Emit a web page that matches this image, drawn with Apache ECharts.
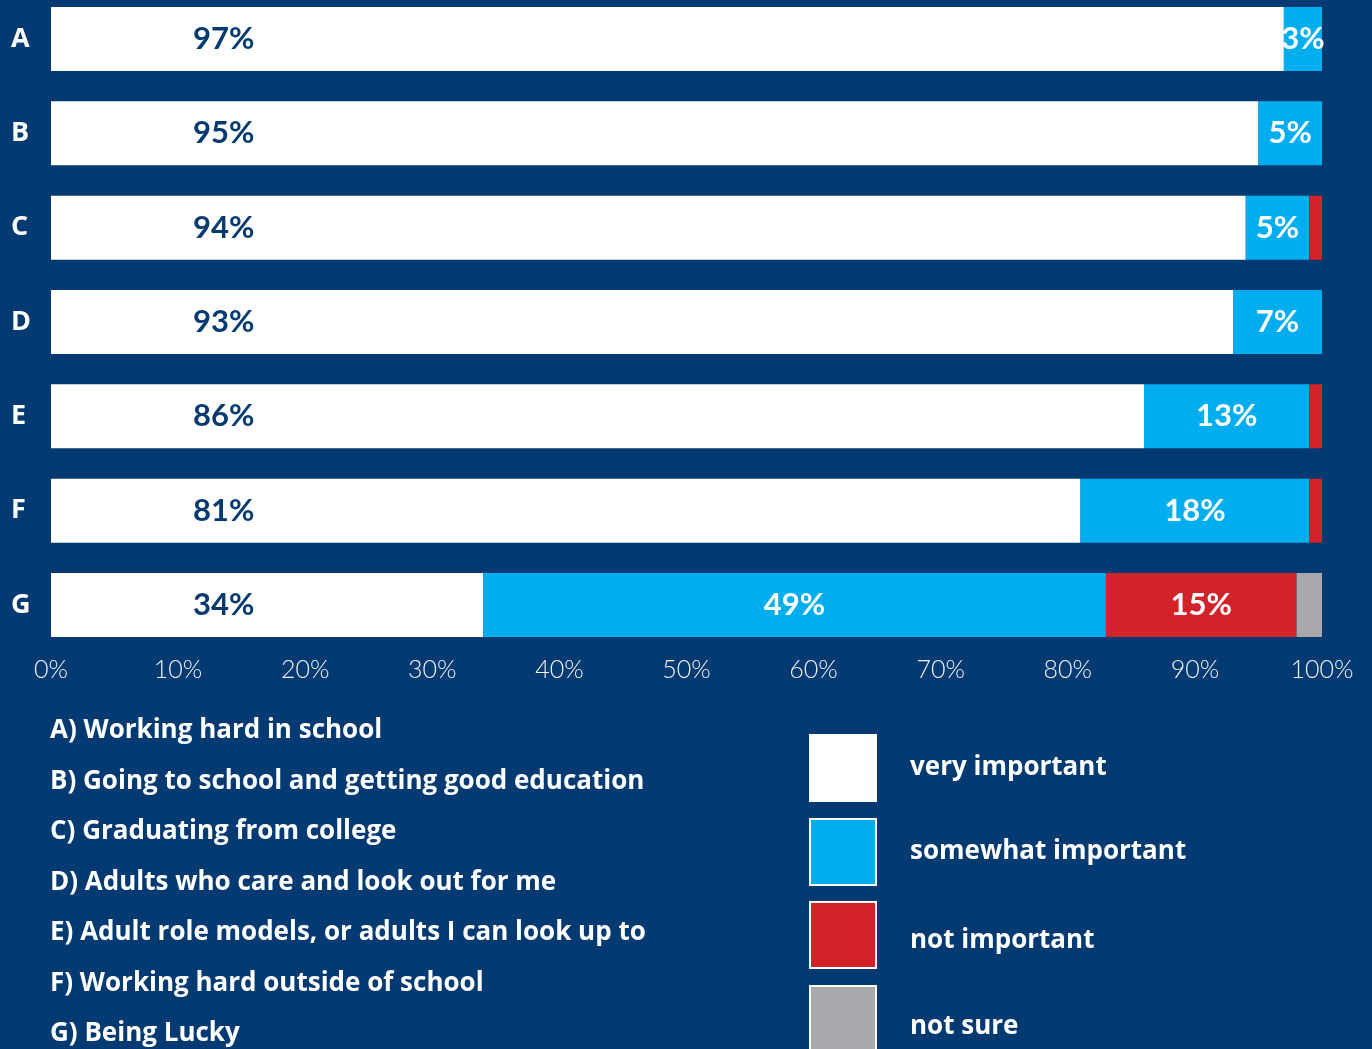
<!DOCTYPE html>
<html>
<head>
<meta charset="utf-8">
<script src="https://cdn.jsdelivr.net/npm/echarts@6/dist/echarts.min.js"></script>
<style>
  html, body { margin: 0; padding: 0; background: #033a71; }
  #chart { width: 1372px; height: 1049px; }
</style>
</head>
<body>
<div id="chart"></div>
<script>
// data
const categories = ['A', 'B', 'C', 'D', 'E', 'F', 'G']
const veryImportant = [97, 95, 94, 93, 86, 81, 34]
const somewhatImportant = [3, 5, 5, 7, 13, 18, 49]
const notImportant = [0, 0, 1, 0, 1, 1, 15]
const notSure = [0, 0, 0, 0, 0, 0, 2]
const xTicks = [0, 10, 20, 30, 40, 50, 60, 70, 80, 90, 100]
const descriptions = [
  'A) Working hard in school',
  'B) Going to school and getting good education',
  'C) Graduating from college',
  'D) Adults who care and look out for me',
  'E) Adult role models, or adults I can look up to',
  'F) Working hard outside of school',
  'G) Being Lucky',
]
const seriesNames = ['very important', 'somewhat important', 'not important', 'not sure']

const navy = '#033a71'
const numFont = 'Lato'
const textFont = 'Open Sans'

let myChart = echarts.init(document.getElementById('chart'))

// labels only on the bigger slices
const pctLabel = (color, extra) => Object.assign({
  show: true,
  color: color,
  fontFamily: numFont,
  fontWeight: 'bold',
  fontSize: 31,
  formatter: (p) => (p.value >= 3 ? p.value + '%' : ''),
}, extra || {})

// one legend box per item, so each can sit where the original has it
const legendTops = [734, 818, 901, 985]
const legendTextShift = [0, 0, 6, 8]

myChart.setOption({
  backgroundColor: navy,
  animation: false,
  grid: {
    left: 51,
    right: 50,
    top: 39,
    height: 566,
  },
  xAxis: {
    type: 'value',
    min: 0,
    max: 100,
    interval: 10,
    offset: 47,
    splitLine: { show: false },
    axisLine: { show: false },
    axisTick: { show: false },
    axisLabel: {
      color: '#f2f4f8',
      fontFamily: numFont,
      fontWeight: 300,
      fontSize: 25,
      margin: 5,
      formatter: (v) => (xTicks.includes(v) ? v + '%' : ''),
    },
  },
  yAxis: {
    type: 'category',
    inverse: true,
    boundaryGap: false,
    data: categories,
    axisLine: { show: false },
    axisTick: { show: false },
    axisLabel: {
      color: '#ffffff',
      fontFamily: textFont,
      fontWeight: 'bold',
      fontSize: 27,
      align: 'left',
      margin: 40,
    },
  },
  legend: seriesNames.map((name, i) => ({
    data: [name],
    orient: 'vertical',
    left: 809,
    top: legendTops[i],
    padding: 0,
    itemWidth: 66,
    itemHeight: 66,
    icon: 'rect',
    selectedMode: false,
    itemStyle: { borderColor: '#ffffff', borderWidth: 2 },
    formatter: '{t|{name}}',
    textStyle: {
      color: '#ffffff',
      fontFamily: textFont,
      fontWeight: 'bold',
      fontSize: 26,
      rich: {
        t: {
          color: '#ffffff',
          fontFamily: textFont,
          fontWeight: 'bold',
          fontSize: 26,
          padding: [legendTextShift[i] * 2, 0, 0, 29],
        },
      },
    },
  })),
  graphic: descriptions.map((t, i) => ({
    type: 'text',
    x: 50,
    y: 731 + i * 50.5,
    style: {
      text: t,
      fill: '#ffffff',
      font: 'bold 26px "' + textFont + '"',
      verticalAlign: 'middle',
    },
  })),
  series: [
    {
      name: seriesNames[0],
      type: 'bar',
      stack: 'total',
      barWidth: 64,
      clip: false,
      itemStyle: { color: '#ffffff' },
      label: pctLabel(navy, { position: 'insideLeft', distance: 142 }),
      data: veryImportant,
    },
    {
      name: seriesNames[1],
      type: 'bar',
      stack: 'total',
      barWidth: 64,
      clip: false,
      itemStyle: { color: '#00aeef' },
      label: pctLabel('#ffffff', { position: 'inside' }),
      data: somewhatImportant,
    },
    {
      name: seriesNames[2],
      type: 'bar',
      stack: 'total',
      barWidth: 64,
      clip: false,
      itemStyle: { color: '#d2232a' },
      label: pctLabel('#ffffff', { position: 'inside' }),
      data: notImportant,
    },
    {
      name: seriesNames[3],
      type: 'bar',
      stack: 'total',
      barWidth: 64,
      clip: false,
      itemStyle: { color: '#a7a9ac' },
      label: pctLabel('#ffffff', { position: 'inside' }),
      data: notSure,
    },
  ],
})
</script>
</body>
</html>
